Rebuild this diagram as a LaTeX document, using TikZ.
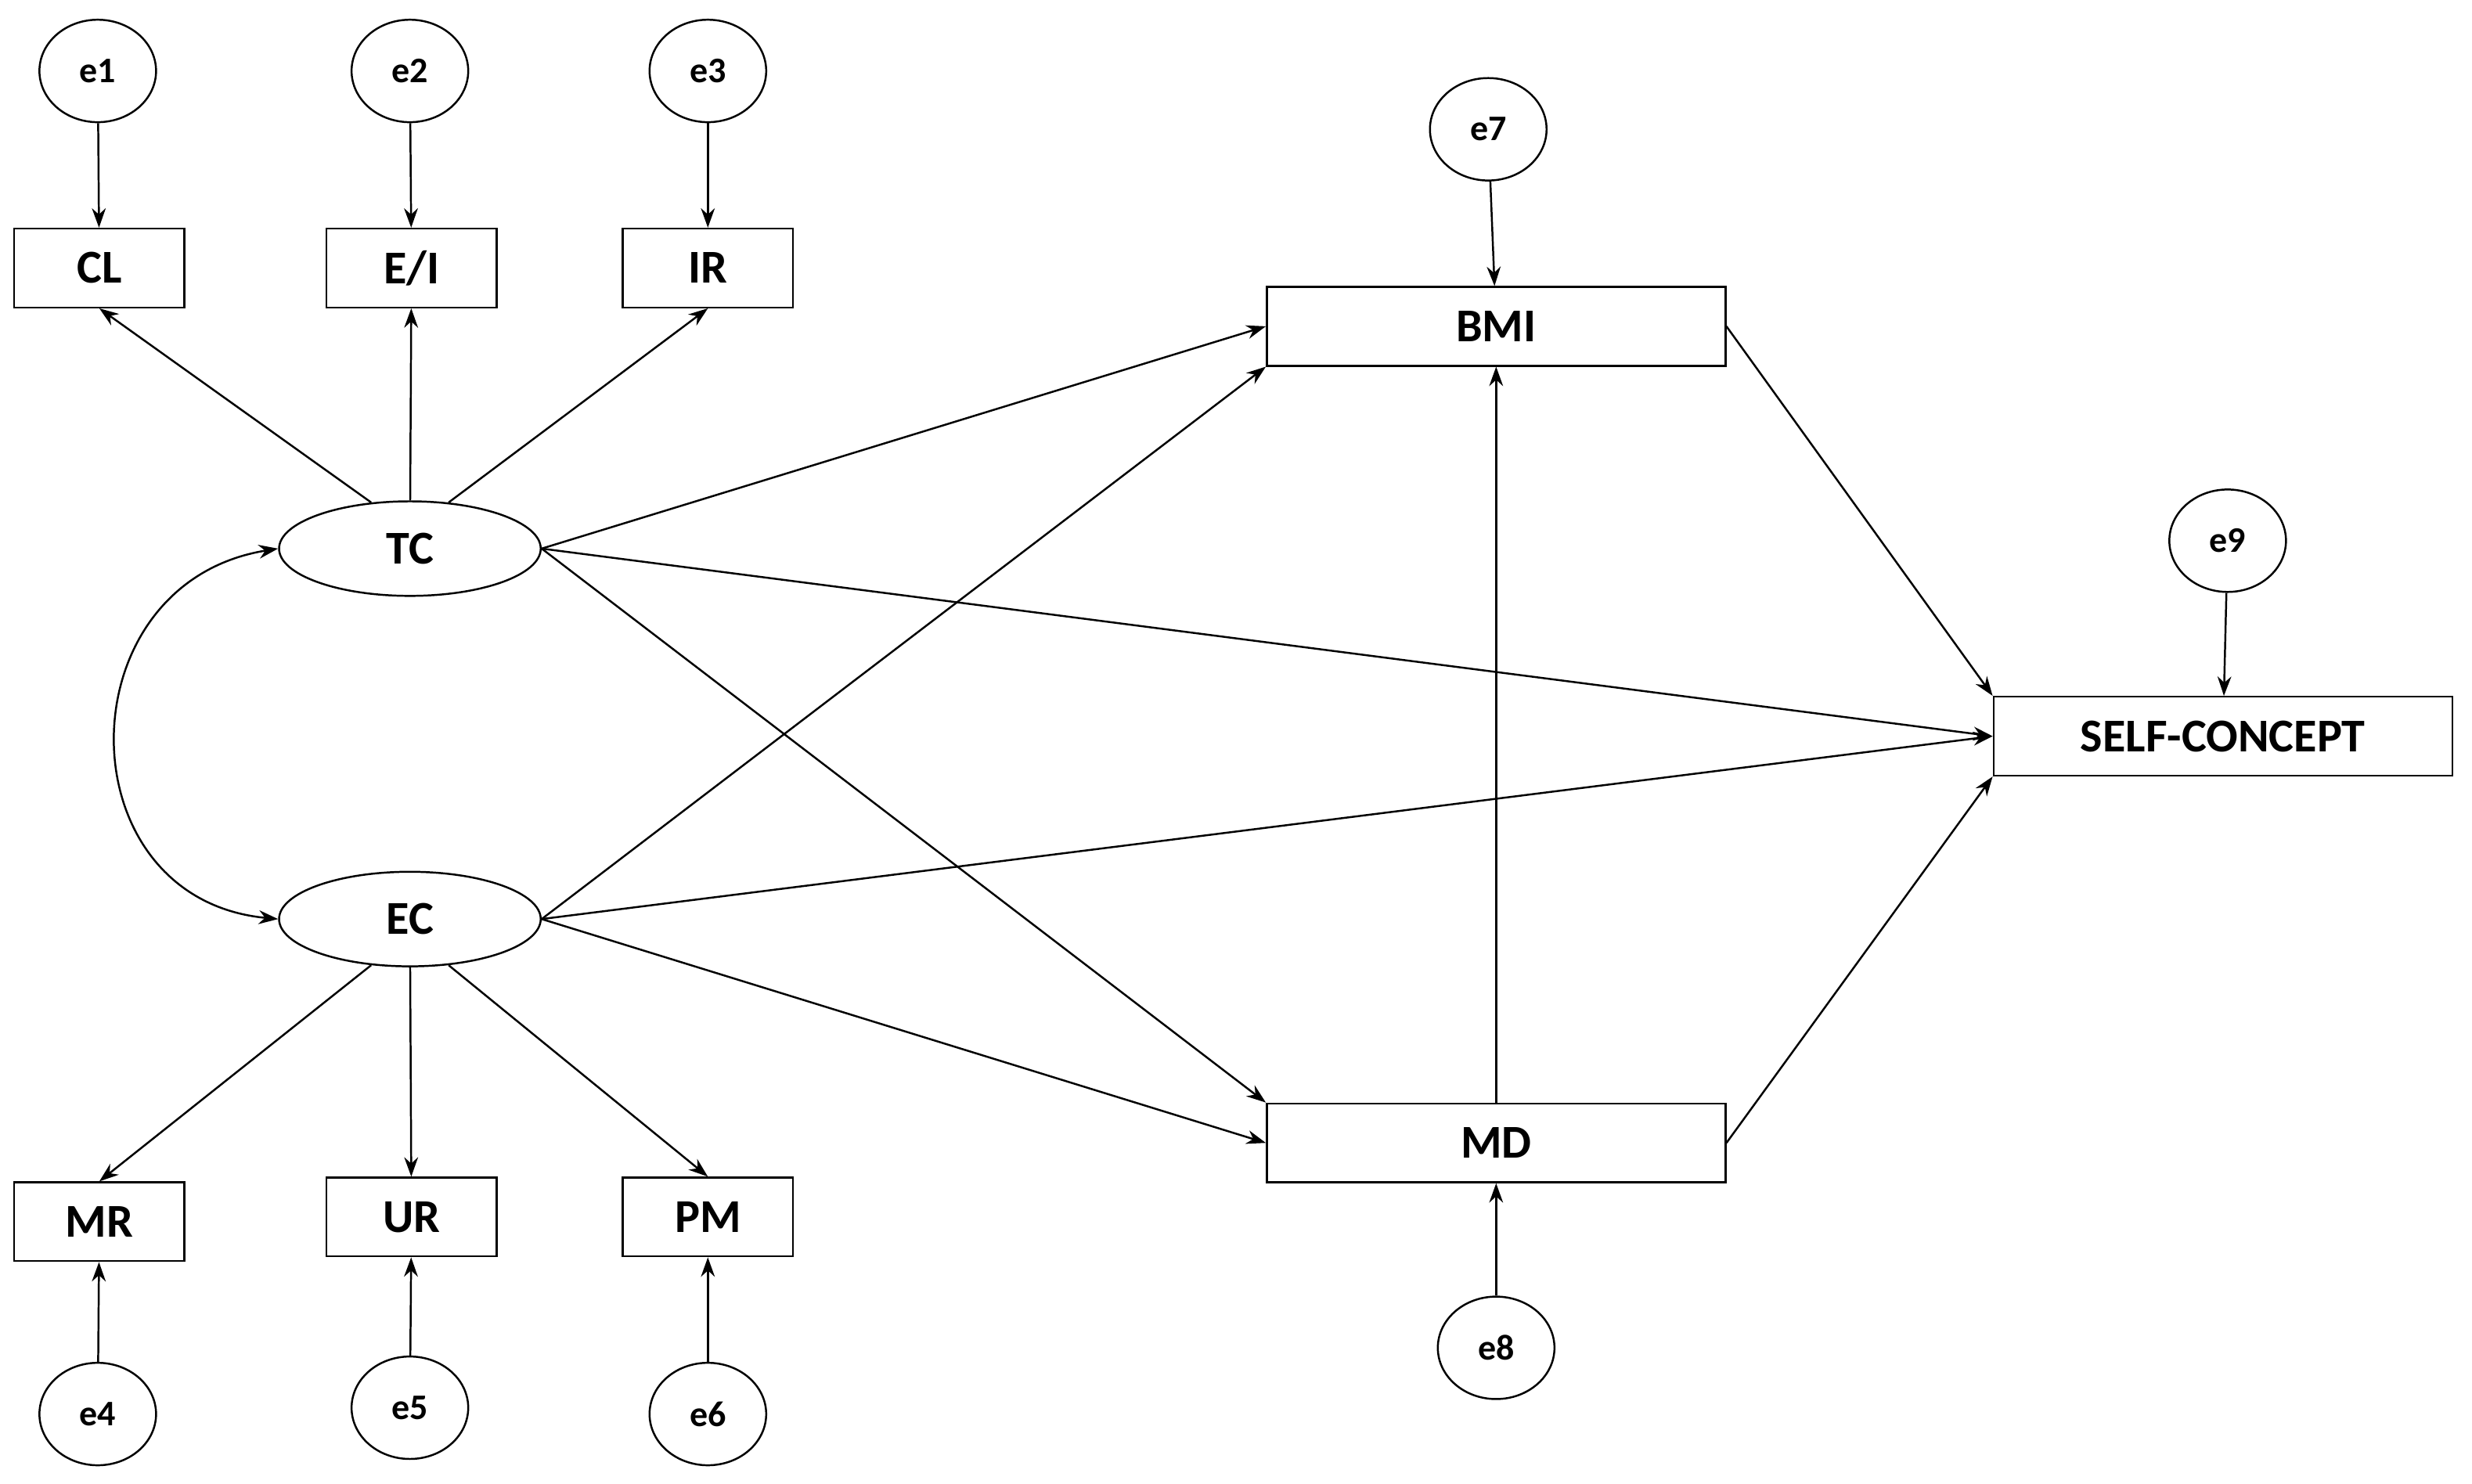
\documentclass[tikz,border=0pt]{standalone}
\usepackage{fontspec}
\setmainfont{Carlito}
\usetikzlibrary{arrows.meta,shapes.geometric}
\begin{document}
\begin{tikzpicture}[x=0.02cm,y=-0.02cm,
  font=\fontsize{15}{17}\selectfont\bfseries,
  every path/.style={line width=0.7pt},
  e/.style={draw,ellipse,minimum width=1.48cm,minimum height=1.3cm,inner sep=0pt,font=\fontsize{13}{15}\selectfont\bfseries},
  lat/.style={draw,ellipse,minimum width=3.32cm,minimum height=1.2cm,inner sep=0pt,font=\fontsize{17}{19}\selectfont\bfseries},
  obs/.style={draw,rectangle,minimum width=2.16cm,minimum height=1cm,inner sep=0pt,font=\fontsize{17}{19}\selectfont\bfseries},
  big/.style={draw,rectangle,minimum width=5.82cm,minimum height=1cm,inner sep=0pt,font=\fontsize{17}{19}\selectfont\bfseries},
  arr/.style={-{Stealth[length=7pt,width=5pt]}}]
\useasboundingbox (0,0) rectangle (1568,941);
\node[e] (e1) at (62,45) {e1};
\node[e] (e2) at (260,45) {e2};
\node[e] (e3) at (449,45) {e3};
\node[obs] (CL) at (63,170) {CL};
\node[obs] (EI) at (261,170) {E/I};
\node[obs] (IR) at (449,170) {IR};
\node[lat] (TC) at (260,348) {TC};
\node[lat] (EC) at (260,583) {EC};
\node[obs] (MR) at (63,775) {MR};
\node[obs] (UR) at (261,772) {UR};
\node[obs] (PM) at (449,772) {PM};
\node[e] (e4) at (62,897) {e4};
\node[e] (e5) at (260,893) {e5};
\node[e] (e6) at (449,897) {e6};
\node[e] (e7) at (944,82) {e7};
\node[big] (BMI) at (949,207) {BMI};
\node[big] (MD) at (949,725) {MD};
\node[e] (e8) at (949,855) {e8};
\node[e] (e9) at (1413,343) {e9};
\node[big] (SC) at (1410,467) {SELF-CONCEPT};
\draw[arr] (e1) -- (CL);
\draw[arr] (e2) -- (EI);
\draw[arr] (e3) -- (IR);
\draw[arr] (e4) -- (MR);
\draw[arr] (e5) -- (UR);
\draw[arr] (e6) -- (PM);
\draw[arr] (e7) -- (BMI);
\draw[arr] (e8) -- (MD);
\draw[arr] (e9) -- (SC);
\draw[arr] (TC.130) -- (CL.south);
\draw[arr] (TC) -- (EI);
\draw[arr] (TC.50) -- (IR.south);
\draw[arr] (EC.230) -- (MR.north);
\draw[arr] (EC) -- (UR);
\draw[arr] (EC.310) -- (PM.north);
\draw[arr] (TC.east) -- (BMI.west);
\draw[arr] (EC.east) -- (BMI.south west);
\draw[arr] (TC.east) -- (SC.west);
\draw[arr] (EC.east) -- (SC.west);
\draw[arr] (TC.east) -- (MD.north west);
\draw[arr] (EC.east) -- (MD.west);
\draw[arr] (MD) -- (BMI);
\draw[arr] (BMI.east) -- (SC.north west);
\draw[arr] (MD.east) -- (SC.south west);
\draw[{Stealth[length=7pt,width=5pt]}-{Stealth[length=7pt,width=5pt]}] (TC.west) .. controls (40,370) and (40,570) .. (EC.west);
\end{tikzpicture}
\end{document}
